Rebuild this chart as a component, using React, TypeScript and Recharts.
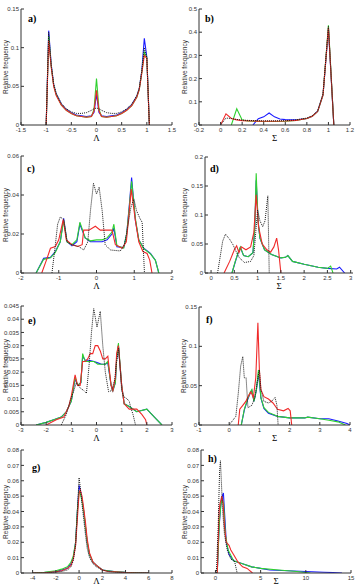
import React from 'react';
import { LineChart, Line, XAxis, YAxis } from 'recharts';

// a) Λ, first histogram
const aX = [-1, -0.95, -0.9, -0.85, -0.8, -0.7, -0.6, -0.5, -0.4, -0.3, -0.2, -0.1, -0.05, 0, 0.05, 0.1, 0.2, 0.3, 0.4, 0.5, 0.6, 0.7, 0.8, 0.85, 0.9, 0.95, 1, 1.05];
const aBlue = [0, 0.122, 0.078, 0.052, 0.04, 0.027, 0.02, 0.016, 0.013, 0.012, 0.011, 0.012, 0.016, 0.04, 0.016, 0.012, 0.011, 0.012, 0.013, 0.016, 0.02, 0.026, 0.037, 0.047, 0.07, 0.112, 0.088, 0];
const aGreen = [0, 0.115, 0.076, 0.051, 0.039, 0.026, 0.019, 0.015, 0.012, 0.011, 0.01, 0.011, 0.02, 0.06, 0.02, 0.011, 0.01, 0.011, 0.012, 0.015, 0.019, 0.025, 0.036, 0.046, 0.068, 0.094, 0.087, 0];
const aRed = [0, 0.11, 0.075, 0.05, 0.038, 0.026, 0.019, 0.015, 0.012, 0.011, 0.01, 0.011, 0.018, 0.045, 0.018, 0.011, 0.01, 0.011, 0.012, 0.015, 0.019, 0.025, 0.036, 0.046, 0.067, 0.09, 0.086, 0];
const aBlack = [0, 0.12, 0.078, 0.053, 0.041, 0.028, 0.021, 0.017, 0.015, 0.015, 0.016, 0.019, 0.021, 0.022, 0.021, 0.019, 0.016, 0.015, 0.015, 0.017, 0.021, 0.027, 0.038, 0.048, 0.07, 0.1, 0.087, 0];

// b) Σ
const bRedX = [0, 0.05, 0.1, 0.15, 0.2, 0.3, 0.4, 0.5, 0.6, 0.7, 0.8, 0.85, 0.9, 0.95, 1, 1.05];
const bRed = [0, 0.048, 0.028, 0.022, 0.019, 0.017, 0.016, 0.016, 0.017, 0.02, 0.028, 0.038, 0.058, 0.13, 0.42, 0];
const bBlack = [0, 0.03, 0.028, 0.024, 0.021, 0.019, 0.018, 0.018, 0.019, 0.022, 0.03, 0.04, 0.06, 0.135, 0.425, 0];
const bGreenX = [0.1, 0.15, 0.2, 0.25, 0.3, 0.4, 0.5, 0.6, 0.7, 0.8, 0.85, 0.9, 0.95, 1, 1.05];
const bGreen = [0, 0.07, 0.022, 0.017, 0.016, 0.015, 0.015, 0.016, 0.02, 0.028, 0.038, 0.058, 0.13, 0.43, 0];
const bBlueX = [0.3, 0.35, 0.4, 0.45, 0.5, 0.55, 0.6, 0.7, 0.8, 0.85, 0.9, 0.95, 1, 1.05];
const bBlue = [0, 0.027, 0.035, 0.052, 0.035, 0.026, 0.023, 0.022, 0.028, 0.038, 0.06, 0.13, 0.415, 0];

// c) Λ
const cBX = [-1.6, -1.4, -1.22, -1.09, -0.96, -0.87, -0.78, -0.65, -0.52, -0.44, -0.3, -0.16, 0, 0.15, 0.28, 0.41, 0.46, 0.54, 0.72, 0.8, 0.87, 0.93, 1.03, 1.12, 1.25, 1.43, 1.56, 1.65];
const cBlue = [0, 0.0075, 0.008, 0.011, 0.016, 0.028, 0.016, 0.014, 0.016, 0.025, 0.018, 0.016, 0.016, 0.016, 0.017, 0.02, 0.023, 0.0135, 0.013, 0.02, 0.035, 0.049, 0.027, 0.017, 0.0127, 0.01, 0.0066, 0];
const cGreen = [0, 0.007, 0.0078, 0.0105, 0.016, 0.027, 0.016, 0.0145, 0.017, 0.026, 0.018, 0.0165, 0.017, 0.017, 0.018, 0.021, 0.025, 0.014, 0.0128, 0.02, 0.034, 0.047, 0.028, 0.017, 0.0125, 0.0098, 0.0065, 0];
const cRX = [-1.45, -1.31, -1.22, -1.09, -1.0, -0.88, -0.8, -0.65, -0.5, -0.38, -0.34, -0.2, -0.03, 0.1, 0.28, 0.41, 0.5, 0.68, 0.79, 0.85, 0.92, 1.03, 1.12, 1.23, 1.34, 1.41, 1.47];
const cRed = [0, 0.0075, 0.0127, 0.0136, 0.017, 0.0275, 0.017, 0.0145, 0.0136, 0.0145, 0.022, 0.022, 0.024, 0.022, 0.022, 0.022, 0.0145, 0.0127, 0.016, 0.028, 0.043, 0.027, 0.016, 0.011, 0.01, 0.0066, 0];
const cKX = [-1.18, -1.09, -1.03, -0.96, -0.87, -0.78, -0.65, -0.47, -0.34, -0.23, -0.16, -0.08, 0, 0.07, 0.15, 0.23, 0.37, 0.63, 0.74, 0.82, 0.91, 0.99, 1.06, 1.15, 1.21, 1.27];
const cBlack = [0, 0.0145, 0.025, 0.0287, 0.0275, 0.016, 0.0145, 0.0136, 0.0118, 0.016, 0.032, 0.046, 0.0405, 0.044, 0.032, 0.0145, 0.0118, 0.0113, 0.0145, 0.023, 0.0335, 0.038, 0.032, 0.028, 0.026, 0];

// d) Σ
const dBX = [0.45, 0.52, 0.58, 0.63, 0.7, 0.8, 0.9, 0.94, 0.97, 1.01, 1.05, 1.15, 1.3, 1.5, 1.6, 1.65, 1.75, 2.0, 2.3, 2.5, 2.7, 2.76, 2.87];
const dBlue = [0, 0.019, 0.034, 0.044, 0.03, 0.028, 0.035, 0.08, 0.16, 0.09, 0.06, 0.04, 0.032, 0.026, 0.027, 0.03, 0.02, 0.015, 0.01, 0.008, 0.007, 0.01, 0];
const dGX = [0.45, 0.52, 0.58, 0.63, 0.7, 0.8, 0.9, 0.94, 0.97, 1.01, 1.05, 1.15, 1.3, 1.5, 1.6, 1.65, 1.75, 2.0, 2.3, 2.5, 2.57, 2.62];
const dGreen = [0, 0.02, 0.035, 0.045, 0.03, 0.028, 0.035, 0.08, 0.172, 0.09, 0.06, 0.04, 0.032, 0.026, 0.027, 0.03, 0.02, 0.015, 0.01, 0.008, 0.012, 0];
const dRX = [0.28, 0.4, 0.5, 0.55, 0.6, 0.65, 0.75, 0.85, 0.92, 0.97, 1.02, 1.1, 1.2, 1.28, 1.35, 1.41, 1.45, 1.5];
const dRed = [0, 0.02, 0.04, 0.047, 0.035, 0.045, 0.04, 0.045, 0.07, 0.135, 0.08, 0.05, 0.04, 0.036, 0.045, 0.06, 0.04, 0];
const dKX = [0.14, 0.2, 0.25, 0.31, 0.4, 0.47, 0.55, 0.61, 0.72, 0.85, 0.92, 0.96, 1.0, 1.05, 1.11, 1.16, 1.22, 1.25];
const dBlack = [0, 0.03, 0.055, 0.067, 0.058, 0.049, 0.035, 0.026, 0.018, 0.02, 0.03, 0.07, 0.109, 0.09, 0.08, 0.09, 0.133, 0];

// e) Λ
const eGX = [-2.4, -2.0, -1.7, -1.4, -1.2, -1.0, -0.85, -0.75, -0.62, -0.55, -0.45, -0.3, -0.1, 0.05, 0.2, 0.35, 0.45, 0.58, 0.65, 0.75, 0.8, 0.87, 1.0, 1.1, 1.3, 1.6, 2.0, 2.3, 2.6];
const eGreen = [0, 0.001, 0.002, 0.003, 0.005, 0.009, 0.018, 0.015, 0.016, 0.027, 0.024, 0.024, 0.024, 0.023, 0.023, 0.023, 0.024, 0.015, 0.013, 0.016, 0.025, 0.031, 0.015, 0.008, 0.007, 0.005, 0.006, 0.003, 0];
const eBlue = [0, 0.001, 0.002, 0.003, 0.005, 0.009, 0.0175, 0.015, 0.016, 0.026, 0.0245, 0.0245, 0.024, 0.0235, 0.023, 0.023, 0.0235, 0.015, 0.013, 0.016, 0.025, 0.03, 0.015, 0.008, 0.007, 0.005, 0.006, 0.003, 0];
const eRX = [-2.0, -1.6, -1.3, -1.1, -1.0, -0.85, -0.75, -0.65, -0.55, -0.45, -0.35, -0.25, -0.15, -0.05, 0.05, 0.15, 0.25, 0.35, 0.45, 0.58, 0.65, 0.75, 0.8, 0.87, 1.0, 1.1, 1.3, 1.6, 1.8, 1.95, 2.0];
const eRed = [0, 0.002, 0.003, 0.007, 0.011, 0.019, 0.015, 0.015, 0.024, 0.024, 0.025, 0.027, 0.027, 0.03, 0.03, 0.028, 0.025, 0.025, 0.026, 0.015, 0.013, 0.018, 0.027, 0.03, 0.015, 0.008, 0.006, 0.006, 0.004, 0.002, 0];
const eKX = [-1.4, -1.2, -1.05, -0.9, -0.8, -0.65, -0.5, -0.4, -0.3, -0.2, -0.11, 0.02, 0.15, 0.25, 0.35, 0.48, 0.6, 0.72, 0.8, 0.88, 0.95, 1.0, 1.08, 1.2, 1.3, 1.35, 1.45, 1.55];
const eBlack = [0, 0.004, 0.009, 0.013, 0.016, 0.014, 0.013, 0.012, 0.022, 0.035, 0.044, 0.037, 0.043, 0.03, 0.02, 0.0126, 0.013, 0.017, 0.024, 0.029, 0.02, 0.013, 0.0107, 0.01, 0.009, 0.007, 0.004, 0];

// f) Σ
const fBX = [0.4, 0.5, 0.6, 0.7, 0.75, 0.82, 0.9, 0.97, 1.05, 1.15, 1.3, 1.6, 2.0, 2.5, 2.6, 3.0, 3.3, 3.6, 3.9, 4.0];
const fBlue = [0, 0.019, 0.031, 0.041, 0.044, 0.03, 0.044, 0.066, 0.034, 0.021, 0.015, 0.011, 0.009, 0.009, 0.01, 0.008, 0.008, 0.005, 0.002, 0];
const fGX = [0.4, 0.5, 0.6, 0.7, 0.75, 0.82, 0.9, 0.97, 1.05, 1.15, 1.3, 1.6, 2.0, 2.5, 2.6, 3.0, 3.3, 3.6, 3.85];
const fGreen = [0, 0.02, 0.032, 0.042, 0.045, 0.03, 0.045, 0.07, 0.035, 0.022, 0.016, 0.011, 0.009, 0.009, 0.01, 0.008, 0.006, 0.004, 0];
const fRX = [0.3, 0.35, 0.45, 0.55, 0.65, 0.72, 0.8, 0.88, 0.95, 1.0, 1.05, 1.15, 1.3, 1.45, 1.6, 1.8, 1.95, 2.02, 2.07];
const fRed = [0, 0.02, 0.025, 0.03, 0.038, 0.042, 0.035, 0.06, 0.13, 0.07, 0.045, 0.036, 0.033, 0.028, 0.02, 0.018, 0.021, 0.018, 0];
const fKX = [0, 0.1, 0.22, 0.3, 0.38, 0.45, 0.5, 0.56, 0.62, 0.75, 0.85, 0.95, 1.0, 1.05, 1.15, 1.3, 1.4, 1.52, 1.58, 1.62];
const fBlack = [0, 0.005, 0.011, 0.04, 0.075, 0.087, 0.06, 0.06, 0.022, 0.025, 0.035, 0.06, 0.07, 0.045, 0.03, 0.028, 0.03, 0.035, 0.025, 0];

// g) Λ
const gX = [-4, -3, -2, -1.5, -1, -0.7, -0.5, -0.3, -0.15, 0, 0.1, 0.25, 0.4, 0.55, 0.7, 0.9, 1.2, 1.5, 2, 2.5, 3, 4, 5, 6];
const gBlue = [0, 0.0003, 0.001, 0.002, 0.003, 0.006, 0.01, 0.02, 0.04, 0.057, 0.054, 0.048, 0.04, 0.03, 0.02, 0.012, 0.007, 0.005, 0.002, 0.0015, 0.001, 0.0005, 0.0002, 0];
const gGreen = [0, 0.0005, 0.0015, 0.0025, 0.004, 0.007, 0.011, 0.02, 0.04, 0.053, 0.052, 0.047, 0.04, 0.03, 0.02, 0.012, 0.007, 0.005, 0.002, 0.0015, 0.001, 0.0005, 0.0002, 0];
const gRed = [0, 0.0002, 0.0008, 0.0015, 0.003, 0.005, 0.009, 0.018, 0.035, 0.052, 0.054, 0.05, 0.042, 0.033, 0.022, 0.013, 0.007, 0.005, 0.002, 0.001, 0.0008, 0.0003, 0, 0];
const gBlack = [0, 0, 0.0005, 0.001, 0.002, 0.004, 0.008, 0.018, 0.04, 0.062, 0.056, 0.045, 0.035, 0.025, 0.016, 0.01, 0.006, 0.004, 0.002, 0.001, 0.0005, 0, 0, 0];

// h) Σ
const hBX = [0.2, 0.4, 0.6, 0.75, 0.88, 1.0, 1.2, 1.5, 2, 3, 4, 5, 6, 8, 10, 12, 13, 14];
const hBlue = [0, 0.03, 0.045, 0.05, 0.052, 0.04, 0.02, 0.012, 0.008, 0.006, 0.004, 0.003, 0.002, 0.0015, 0.001, 0.0005, 0.0003, 0];
const hGX = [0.2, 0.45, 0.6, 0.75, 0.9, 1.1, 1.4, 2, 3, 4, 5, 7, 9, 10.5];
const hGreen = [0, 0.035, 0.044, 0.048, 0.045, 0.025, 0.015, 0.008, 0.006, 0.004, 0.003, 0.002, 0.001, 0];
const hRX = [0.2, 0.4, 0.5, 0.7, 0.85, 1.0, 1.2, 1.5, 1.7, 2, 2.5, 3, 3.5, 4.1];
const hRed = [0, 0.04, 0.045, 0.05, 0.045, 0.03, 0.02, 0.018, 0.015, 0.012, 0.007, 0.004, 0.003, 0];
const hKX = [0.1, 0.3, 0.45, 0.55, 0.65, 0.8, 1.0, 1.3, 1.7, 2.1, 2.4];
const hBlack = [0, 0.03, 0.065, 0.073, 0.06, 0.04, 0.025, 0.015, 0.009, 0.008, 0];

const BLUE = '#1a1aff';
const GREEN = '#2fd12f';
const RED = '#f02a2a';
const BLACK = '#1a1a1a';
const AXIS = '#333';

const SANS = '"Liberation Sans", Arial, sans-serif';
const SERIF = '"Liberation Serif", "Times New Roman", serif';

type Series = { xs: number[]; ys: number[]; color: string; dotted?: boolean };

const four = (b: [number[], number[]], g: [number[], number[]], r: [number[], number[]], k: [number[], number[]]): Series[] => [
  { xs: b[0], ys: b[1], color: BLUE },
  { xs: g[0], ys: g[1], color: GREEN },
  { xs: r[0], ys: r[1], color: RED },
  { xs: k[0], ys: k[1], color: BLACK, dotted: true },
];

const toPoints = (xs: number[], ys: number[]) => xs.map((x, i) => ({ x, y: ys[i] }));

interface PanelProps {
  box: [number, number, number, number];
  xDomain: [number, number];
  xTicks: number[];
  yDomain: [number, number];
  yTicks: number[];
  xLabel: string;
  tag: string;
  tagAt: [number, number];
  series: Series[];
  yLabelGap?: number;
  xLabelGap?: number;
}

const tickStyle = { fontSize: 6, fill: '#333', fontFamily: SANS };

const Panel = ({ box, xDomain, xTicks, yDomain, yTicks, xLabel, tag, tagAt, series, yLabelGap = 16, xLabelGap = 13 }: PanelProps) => {
  const [l, t, r, b] = box;
  const padL = 34, padT = 3, padR = 8, padB = 19;
  const w = r - l + padL + padR;
  const h = b - t + padT + padB;
  return (
    <>
      <div style={{ position: 'absolute', left: l - padL, top: t - padT }}>
        <LineChart width={w} height={h} margin={{ top: padT, right: padR, bottom: 0, left: 0 }}>
          <XAxis
            dataKey="x" type="number" domain={xDomain} ticks={xTicks} interval={0} allowDataOverflow
            height={padB} stroke={AXIS} tickSize={-3} tickMargin={6} tick={tickStyle}
            label={{ value: xLabel, position: 'insideBottom', offset: padB - xLabelGap - 3.2, style: { fontSize: 9, fill: '#000', fontFamily: SERIF } }}
          />
          <XAxis
            xAxisId="top" orientation="top" type="number" domain={xDomain} ticks={xTicks} interval={0} allowDataOverflow
            height={0} stroke={AXIS} tickSize={-3} tickFormatter={() => ''}
          />
          <YAxis
            type="number" domain={yDomain} ticks={yTicks} interval={0} allowDataOverflow
            width={padL} stroke={AXIS} tickSize={-3} tickMargin={5} tick={tickStyle}
          />
          <YAxis
            yAxisId="right" orientation="right" type="number" domain={yDomain} ticks={yTicks} interval={0} allowDataOverflow
            width={0} stroke={AXIS} tickSize={-3} tickFormatter={() => ''}
          />
          {series.map((s, i) => (
            <Line
              key={i}
              data={toPoints(s.xs, s.ys)}
              dataKey="y"
              type="linear"
              stroke={s.color}
              strokeWidth={s.dotted ? 1 : 1.1}
              strokeDasharray={s.dotted ? '1 1' : undefined}
              dot={false}
              activeDot={false}
              isAnimationActive={false}
            />
          ))}
        </LineChart>
      </div>
      <div
        style={{
          position: 'absolute', left: l - yLabelGap, top: (t + b) / 2,
          transform: 'translate(-50%, -50%) rotate(-90deg)', whiteSpace: 'nowrap',
          fontFamily: SANS, fontSize: 6.5, lineHeight: '7px', color: '#333',
        }}
      >
        Relative frequency
      </div>
      <div style={{ position: 'absolute', left: tagAt[0], top: tagAt[1], fontFamily: SERIF, fontWeight: 'bold', fontSize: 10, lineHeight: '10px', color: '#000' }}>
        {tag}
      </div>
    </>
  );
};

const App: React.FC = () => {
  return (
    <div style={{ position: 'absolute', left: 0, top: 0, width: 357, height: 587, background: '#fff', overflow: 'hidden' }}>
      <Panel
        box={[21, 9, 172, 125]} xDomain={[-1.5, 1.5]} xTicks={[-1.5, -1, -0.5, 0, 0.5, 1, 1.5]}
        yDomain={[0, 0.15]} yTicks={[0, 0.05, 0.1, 0.15]} xLabel="Λ" tag="a)" tagAt={[28, 14]}
        series={four([aX, aBlue], [aX, aGreen], [aX, aRed], [aX, aBlack])}
      />
      <Panel
        box={[199, 9, 350, 125]} xDomain={[-0.2, 1.2]} xTicks={[-0.2, 0, 0.2, 0.4, 0.6, 0.8, 1, 1.2]}
        yDomain={[0, 0.5]} yTicks={[0, 0.1, 0.2, 0.3, 0.4, 0.5]} xLabel="Σ" tag="b)" tagAt={[205, 14]} yLabelGap={15}
        series={four([bBlueX, bBlue], [bGreenX, bGreen], [bRedX, bRed], [bRedX, bBlack])}
      />
      <Panel
        box={[21, 156, 172, 273]} xDomain={[-2, 2]} xTicks={[-2, -1, 0, 1, 2]}
        yDomain={[0, 0.06]} yTicks={[0, 0.02, 0.04, 0.06]} xLabel="Λ" tag="c)" tagAt={[27, 164]}
        series={four([cBX, cBlue], [cBX, cGreen], [cRX, cRed], [cKX, cBlack])}
      />
      <Panel
        box={[205, 157, 353, 273]} xDomain={[-0.13, 3.05]} xTicks={[0, 0.5, 1, 1.5, 2, 2.5, 3]}
        yDomain={[0, 0.2]} yTicks={[0, 0.05, 0.1, 0.15, 0.2]} xLabel="Σ" tag="d)" tagAt={[210, 164]} yLabelGap={21}
        series={four([dBX, dBlue], [dGX, dGreen], [dRX, dRed], [dKX, dBlack])}
      />
      <Panel
        box={[21, 306, 172, 425]} xDomain={[-3, 3]} xTicks={[-3, -2, -1, 0, 1, 2, 3]}
        yDomain={[0, 0.045]} yTicks={[0, 0.005, 0.01, 0.015, 0.02, 0.025, 0.03, 0.035, 0.04, 0.045]} xLabel="Λ" tag="e)" tagAt={[28, 316]}
        series={four([eGX, eBlue], [eGX, eGreen], [eRX, eRed], [eKX, eBlack])}
      />
      <Panel
        box={[199, 307, 350, 425]} xDomain={[-1, 4]} xTicks={[-1, 0, 1, 2, 3, 4]}
        yDomain={[0, 0.15]} yTicks={[0, 0.05, 0.1, 0.15]} xLabel="Σ" tag="f)" tagAt={[206, 315]}
        series={four([fBX, fBlue], [fGX, fGreen], [fRX, fRed], [fKX, fBlack])}
      />
      <Panel
        box={[21, 450, 172, 573]} xDomain={[-5, 8]} xTicks={[-4, -2, 0, 2, 4, 6, 8]}
        yDomain={[0, 0.08]} yTicks={[0, 0.01, 0.02, 0.03, 0.04, 0.05, 0.06, 0.07, 0.08]} xLabel="Λ" tag="g)" tagAt={[32, 463]} xLabelGap={8}
        series={four([gX, gBlue], [gX, gGreen], [gX, gRed], [gX, gBlack])}
      />
      <Panel
        box={[201, 450, 351, 573]} xDomain={[-1.6, 15]} xTicks={[0, 5, 10, 15]}
        yDomain={[0, 0.08]} yTicks={[0, 0.01, 0.02, 0.03, 0.04, 0.05, 0.06, 0.07, 0.08]} xLabel="Σ" tag="h)" tagAt={[208, 454]} xLabelGap={8} yLabelGap={17}
        series={four([hBX, hBlue], [hGX, hGreen], [hRX, hRed], [hKX, hBlack])}
      />
    </div>
  );
};

export default App;
